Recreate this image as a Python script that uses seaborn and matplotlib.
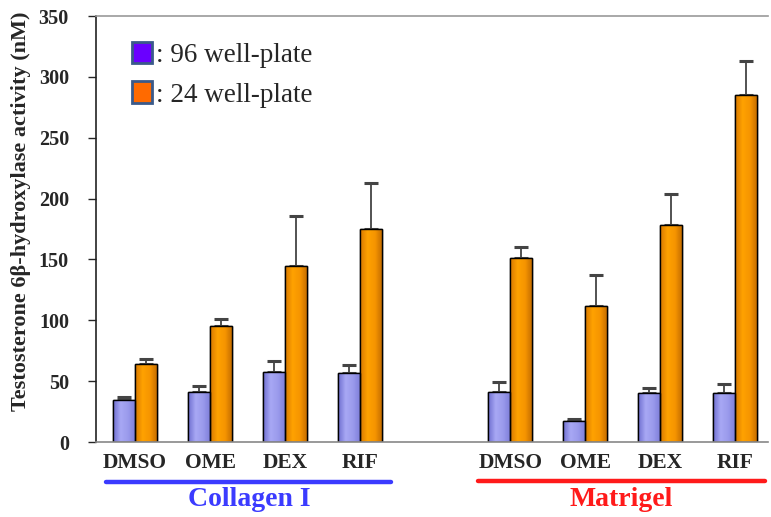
import numpy as np
import pandas as pd
import matplotlib
matplotlib.use('Agg')
import matplotlib.pyplot as plt
from matplotlib.colors import LinearSegmentedColormap
from matplotlib.patches import Patch
import seaborn as sns

# data
groups = ['Collagen I', 'Matrigel']
treatments = ['DMSO', 'OME', 'DEX', 'RIF']
plates = ['96 well-plate', '24 well-plate']

mean_96 = [34.5, 41, 57.5, 56.5, 41, 17.5, 40, 40]
err_96 = [2.5, 5, 9, 6.5, 8.5, 1.5, 4, 8]
mean_24 = [64, 95, 145, 175, 151, 112, 178, 285]
err_24 = [4, 6, 41, 38, 9, 25, 26, 28]

slots = [f'{g}|{t}' for g in groups for t in treatments]
order = slots[:4] + ['gap'] + slots[4:]

df = pd.DataFrame({
    'slot': slots * 2,
    'plate': [plates[0]] * 8 + [plates[1]] * 8,
    'value': mean_96 + mean_24,
    'err': err_96 + err_24,
})

sns.set_style('white')
plt.rcParams['font.family'] = ['Liberation Serif', 'DejaVu Serif']

fig = plt.figure(figsize=(7.71, 5.17), dpi=100)
ax = fig.add_axes([0.1245, 0.145, 0.872, 0.824])

sns.barplot(data=df, x='slot', y='value', hue='plate', order=order,
            hue_order=plates, palette=['#9d9def', '#ff9d00'], width=0.59,
            edgecolor='black', linewidth=1.0, errorbar=None, legend=False, ax=ax)

# shaded fills like the original, clipped to each bar
shade = {
    plates[0]: LinearSegmentedColormap.from_list('b', ['#6e6ed0', '#a8a8f4', '#9a9aec', '#7c7cd8']),
    plates[1]: LinearSegmentedColormap.from_list('o', ['#d87800', '#ffa200', '#f59400', '#c06a00']),
}
grad = np.linspace(0, 1, 64).reshape(1, -1)
bars = [p for p in ax.patches if p.get_height() > 0]
n = len(slots)
for i, bar in enumerate(bars):
    plate = plates[i // n]
    x0, w, h = bar.get_x(), bar.get_width(), bar.get_height()
    im = ax.imshow(grad, cmap=shade[plate], extent=[x0, x0 + w, 0, h],
                   aspect='auto', zorder=bar.get_zorder() + 0.1)
    im.set_clip_path(bar)
    ax.add_patch(plt.Rectangle((x0, 0), w, h, fill=False, edgecolor='black',
                               linewidth=1.0, zorder=bar.get_zorder() + 0.2))
    e = df['err'].iloc[i]
    ax.errorbar(x0 + w / 2, h, yerr=[[0], [e]], fmt='none', ecolor='#444444',
                elinewidth=1.3, capsize=5, capthick=2.2, zorder=1)

ax.set_xlim(-0.52, 8.44)
ax.set_ylim(0, 350)
ax.set_yticks(range(0, 351, 50))
ax.set_yticklabels([str(v) for v in range(0, 351, 50)], fontsize=14.5, fontweight='bold')
tick_pos = [order.index(s) for s in slots]
ax.set_xticks(tick_pos)
ax.set_xticklabels(treatments * 2, fontsize=15.5, fontweight='bold')
ax.tick_params(axis='x', length=0, pad=8)
ax.tick_params(axis='y', length=5.5, width=1, direction='out', left=True, pad=14)
ax.set_xlabel('')
ax.set_ylabel('Testosterone 6β-hydroxylase activity (nM)', fontsize=16,
              fontweight='bold')
ax.yaxis.set_label_coords(-0.096, 0.542)

for side in ['left', 'bottom', 'top']:
    ax.spines[side].set_visible(True)
ax.spines['right'].set_visible(False)
ax.spines['left'].set_color('#222222')
ax.spines['bottom'].set_color('#888888')
ax.spines['top'].set_color('#999999')
for side in ['left', 'bottom', 'top']:
    ax.spines[side].set_linewidth(1.2)

# group lines and labels under the axis
fig.add_artist(plt.Line2D([106 / 771, 391 / 771], [1 - 482 / 517] * 2,
                          color='#3b3bff', linewidth=3.2))
fig.add_artist(plt.Line2D([478 / 771, 765 / 771], [1 - 481 / 517] * 2,
                          color='#ff1a1a', linewidth=3.2))
fig.text(249 / 771, 1 - 500 / 517, groups[0], color='#3b3bff', fontsize=20,
         fontweight='bold', ha='center', va='center')
fig.text(621 / 771, 1 - 500 / 517, groups[1], color='#ff1a1a', fontsize=20,
         fontweight='bold', ha='center', va='center')

handles = [Patch(facecolor='#6a00ff', edgecolor='#3a5a8a', linewidth=2),
           Patch(facecolor='#ff6a00', edgecolor='#3a5a8a', linewidth=2)]
ax.legend(handles, [': ' + p for p in plates], loc='upper left',
          bbox_to_anchor=(0.017, 0.997), frameon=False, fontsize=19.5,
          handlelength=0.75, handleheight=0.85, handletextpad=0.15,
          labelspacing=0.5)

fig.savefig('out.png', dpi=100)
